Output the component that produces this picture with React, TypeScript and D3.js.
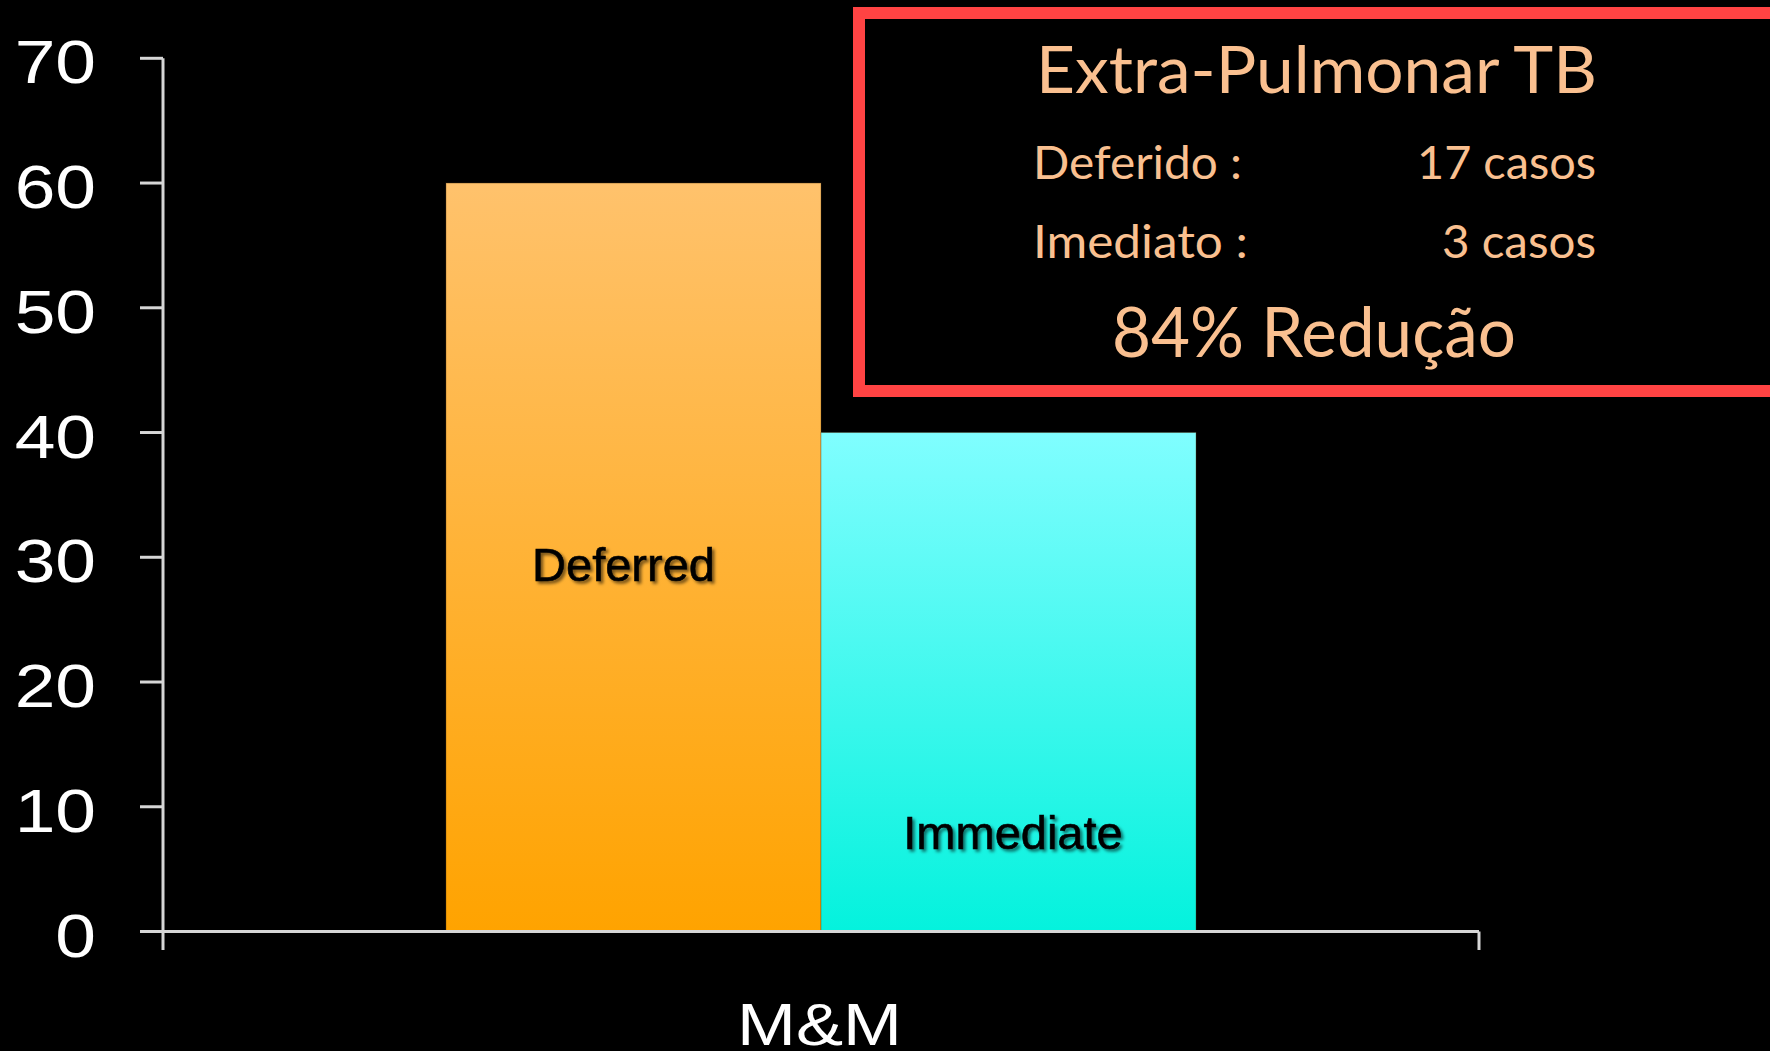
import React from "react";
import * as d3 from "d3";

const categories = ["M&M"];
const seriesNames = ["Deferred", "Immediate"];
const seriesValues = [60, 40];
const yTicks = [0, 10, 20, 30, 40, 50, 60, 70];
const boxTitle = "Extra-Pulmonar TB";
const boxRows = [
  { label: "Deferido :", value: "17 casos" },
  { label: "Imediato :", value: "3 casos" },
];
const boxFooter = "84% Redução";

const W = 1770;
const H = 1051;

export default function App() {
  const x0 = 163;
  const x1 = 1479;
  const y = d3.scaleLinear().domain([0, 70]).range([931.5, 58.3]);
  const xBand = d3.scaleBand<string>().domain(categories).range([x0, x1]).paddingInner(0).paddingOuter(0.3773);
  const xSub = d3.scaleBand<string>().domain(seriesNames).range([0, xBand.bandwidth()]).padding(0);

  const gradIds = ["gradDef", "gradImm"];
  const labelOffsets = [
    { dx: -10, v: 28.1 },
    { dx: 4.5, v: 6.65 },
  ];
  const axisColor = "#d6d6d6";
  const peach = "#FAC090";

  return (
    <svg width={W} height={H} style={{ position: "absolute", left: 0, top: 0, display: "block", background: "#000" }}>
      <defs>
        <linearGradient id="gradDef" x1="0" y1="0" x2="0" y2="1">
          <stop offset="0%" stopColor="#FFC26C" />
          <stop offset="100%" stopColor="#FFA300" />
        </linearGradient>
        <linearGradient id="gradImm" x1="0" y1="0" x2="0" y2="1">
          <stop offset="0%" stopColor="#80FEFF" />
          <stop offset="100%" stopColor="#04F2DD" />
        </linearGradient>
        <filter id="shadow" x="-10%" y="-30%" width="130%" height="170%">
          <feDropShadow dx="2.5" dy="2.5" stdDeviation="1.6" floodColor="#000" floodOpacity="0.55" />
        </filter>
      </defs>
      <rect x={0} y={0} width={W} height={H} fill="#000" />

      {/* bars */}
      {categories.map((c) => (
        <g key={c} transform={`translate(${xBand(c)},0)`}>
          {seriesNames.map((s, i) => (
            <rect
              key={s}
              x={xSub(s)}
              y={y(seriesValues[i])}
              width={xSub.bandwidth()}
              height={y(0) - y(seriesValues[i])}
              fill={`url(#${gradIds[i]})`}
              stroke="rgba(90,60,20,0.35)"
              strokeWidth={1}
            />
          ))}
          {seriesNames.map((s, i) => (
            <text
              key={s + "l"}
              x={(xSub(s) as number) + xSub.bandwidth() / 2 + labelOffsets[i].dx}
              y={y(labelOffsets[i].v)}
              textAnchor="middle"
              fontFamily="'Liberation Sans', Arial, sans-serif"
              fontSize={47}
              fill="#000"
              stroke="#000"
              strokeWidth={0.6}
              filter="url(#shadow)"
            >
              {s}
            </text>
          ))}
        </g>
      ))}

      {/* y axis */}
      <line x1={x0} x2={x0} y1={y(70)} y2={950} stroke={axisColor} strokeWidth={3} />
      {yTicks.map((t) => (
        <g key={t}>
          <line x1={140} x2={x0} y1={y(t)} y2={y(t)} stroke={axisColor} strokeWidth={3} />
          <text
            x={0}
            y={0}
            transform={`translate(96,${y(t) + 25}) scale(1.18,1)`}
            textAnchor="end"
            fontFamily="'Liberation Sans', Arial, sans-serif"
            fontSize={62}
            fill="#fff"
          >
            {t}
          </text>
        </g>
      ))}

      {/* x axis */}
      <line x1={140} x2={x1} y1={y(0)} y2={y(0)} stroke={axisColor} strokeWidth={3} />
      <line x1={x1} x2={x1} y1={y(0)} y2={950} stroke={axisColor} strokeWidth={3} />
      {categories.map((c) => (
        <text
          key={c}
          x={(xBand(c) as number) + xBand.bandwidth() / 2 - 1.5}
          y={1045}
          textAnchor="middle"
          fontFamily="'Liberation Sans', Arial, sans-serif"
          fontSize={60}
          textLength={165}
          lengthAdjust="spacingAndGlyphs"
          fill="#fff"
        >
          {c}
        </text>
      ))}

      {/* annotation box */}
      <rect x={859} y={13} width={920} height={378} fill="#000" stroke="#FF4343" strokeWidth={12} />
      <g fontFamily="Lato, 'Open Sans', sans-serif" fill={peach}>
        <text x={1036} y={92.5} fontSize={65} textLength={561} lengthAdjust="spacingAndGlyphs">
          {boxTitle}
        </text>
        {boxRows.map((r, i) => (
          <g key={r.label}>
            <text x={1033} y={179 + i * 79} fontSize={46} textLength={i === 0 ? 209 : 215} lengthAdjust="spacingAndGlyphs">
              {r.label}
            </text>
            <text x={1596} y={179 + i * 79} fontSize={46} textAnchor="end" textLength={i === 0 ? 179 : 154} lengthAdjust="spacingAndGlyphs">
              {r.value}
            </text>
          </g>
        ))}
        <text x={1112} y={357} fontSize={70} textLength={404} lengthAdjust="spacingAndGlyphs">
          {boxFooter}
        </text>
      </g>
    </svg>
  );
}
